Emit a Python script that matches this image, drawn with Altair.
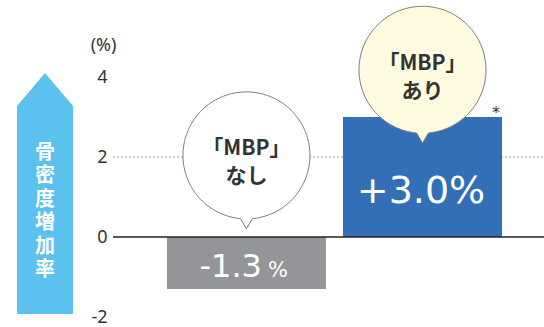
import math
import altair as alt
import pandas as pd

# ---- data ----
groups = ["なし", "あり"]
values = [-1.3, 3.0]
value_labels = ["-1.3", "+3.0%"]
sig_marks = ["", "*"]
bubble_texts = ["「MBP」\nなし", "「MBP」\nあり"]
bubble_y = [2.04, 4.18]
y_ticks = [-2, 0, 2, 4]
zero_line = [0]
dotted_line = [2]
axis_title = "(%)"
arrow_text = "骨密度増加率"

df = pd.DataFrame({
    "group": groups,
    "value": values,
    "label": value_labels,
    "sig": sig_marks,
    "bubble_text": bubble_texts,
    "bubble_y": bubble_y,
})

W, H = 429, 240
JP = "Noto Sans CJK JP"

# ---- shapes ----
def bubble_path(half_w=0.094, tip=1.155, n=180):
    p0 = math.asin(half_w)
    pts = [(0.0, tip)]
    for i in range(n + 1):
        a = p0 + (2 * math.pi - 2 * p0) * i / n
        pts.append((math.sin(a), math.cos(a)))
    return "M" + " L".join(f"{x:.4f},{y:.4f}" for x, y in pts) + " Z"

BUBBLE = bubble_path()
arrow_pts = [(0, -120.5), (28, -87.5), (28, 120.5), (-28, 120.5), (-28, -87.5)]
ARROW = "M" + " L".join(f"{x/120:.4f},{y/120:.4f}" for x, y in arrow_pts) + " Z"

xscale = alt.Scale(domain=groups, paddingInner=0.097, paddingOuter=0.267, align=0.553)
yscale = alt.Scale(domain=[-2, 4], nice=False, zero=False)
X = alt.X("group:N", scale=xscale, axis=None, sort=groups)
colors = alt.Color("group:N", scale=alt.Scale(domain=groups, range=["#939598", "#326fb6"]), legend=None)
bfill = alt.Fill("group:N", scale=alt.Scale(domain=groups, range=["#ffffff", "#fffbe0"]), legend=None)

y_axis = alt.Axis(
    values=y_ticks, grid=False, domain=False, ticks=False,
    labelExpr="'' + datum.value",
    labelPadding=8, labelFontSize=18, labelColor="#333333", labelFont="Noto Sans",
    title=axis_title, titleAngle=0, titleX=-12, titleY=-32, titleAlign="center",
    titleBaseline="middle", titleFontSize=18, titleFontWeight="normal",
    titleColor="#333333", titleFont="Noto Sans")

def Y(field):
    return alt.Y(field, scale=yscale, axis=y_axis)

base = alt.Chart(df)

dotted = alt.Chart(pd.DataFrame({"y": dotted_line})).mark_rule(
    color="#9a9a9a", strokeWidth=1, strokeDash=[2, 2]
).encode(y=Y("y:Q"), x=alt.value(-2), x2=alt.value(W))

bars = base.mark_bar().encode(
    x=X,
    y=Y("value:Q"),
    y2=alt.datum(0),
    color=colors,
)

zero = alt.Chart(pd.DataFrame({"y": zero_line})).mark_rule(
    color="#222222", strokeWidth=1.5
).encode(y=Y("y:Q"), x=alt.value(-2), x2=alt.value(W))

bubbles = base.mark_point(
    shape=BUBBLE, size=127 ** 2, filled=True, stroke="#7a7a7a", strokeWidth=1, opacity=1
).encode(x=X, y=Y("bubble_y:Q"), fill=bfill)

bubble_txt = base.mark_text(
    lineBreak="\n", lineHeight=28, fontSize=21, fontWeight="bold", font=JP,
    color="#333333", baseline="middle", align="center", dy=-6
).encode(x=X, y=Y("bubble_y:Q"), text="bubble_text:N")

lab_neg = base.transform_filter(alt.datum.group == groups[0]).mark_text(
    align="right", baseline="alphabetic", dx=15.5, dy=-11.7, fontSize=32,
    color="white", font="DejaVu Sans"
).encode(x=X, y=Y("value:Q"), text="label:N")

lab_pct = base.transform_filter(alt.datum.group == groups[0]).mark_text(
    align="left", baseline="alphabetic", dx=21.5, dy=-11.7, fontSize=21,
    color="white", font="DejaVu Sans"
).encode(x=X, y=Y("value:Q"), text=alt.value("%"))

lab_pos = base.transform_filter(alt.datum.group == groups[1]).mark_text(
    align="center", baseline="alphabetic", dx=-1.5, dy=86, fontSize=38,
    color="white", font="DejaVu Sans"
).encode(x=X, y=Y("value:Q"), text="label:N")

sig = base.mark_text(
    align="center", baseline="alphabetic", dx=73.5, dy=1, fontSize=16,
    color="#333333", font="DejaVu Sans"
).encode(x=X, y=Y("value:Q"), text="sig:N")

one = alt.Chart(alt.Data(values=[{"a": 1}]))
arrow = one.mark_point(
    shape=ARROW, size=240 ** 2, filled=True, fill="#5bc1ee", strokeWidth=0, opacity=1
).encode(x=alt.value(-70), y=alt.value(116.5))

arrow_lbl = one.mark_text(
    lineBreak="\n", lineHeight=23.4, fontSize=20, fontWeight="bold", font=JP,
    color="white", align="center", baseline="middle"
).encode(x=alt.value(-70), y=alt.value(76), text=alt.value("\n".join(arrow_text)))

chart = alt.layer(
    dotted, bars, zero, bubbles, bubble_txt, lab_neg, lab_pct, lab_pos, sig, arrow, arrow_lbl
).properties(
    width=W, height=H,
    padding={"left": 115, "top": 77, "right": 0, "bottom": 10},
    autosize=alt.AutoSizeParams(type="none"),
    background="white",
).configure_view(stroke=None)

chart.save("out.html", embed_options={"renderer": "svg", "actions": False})
